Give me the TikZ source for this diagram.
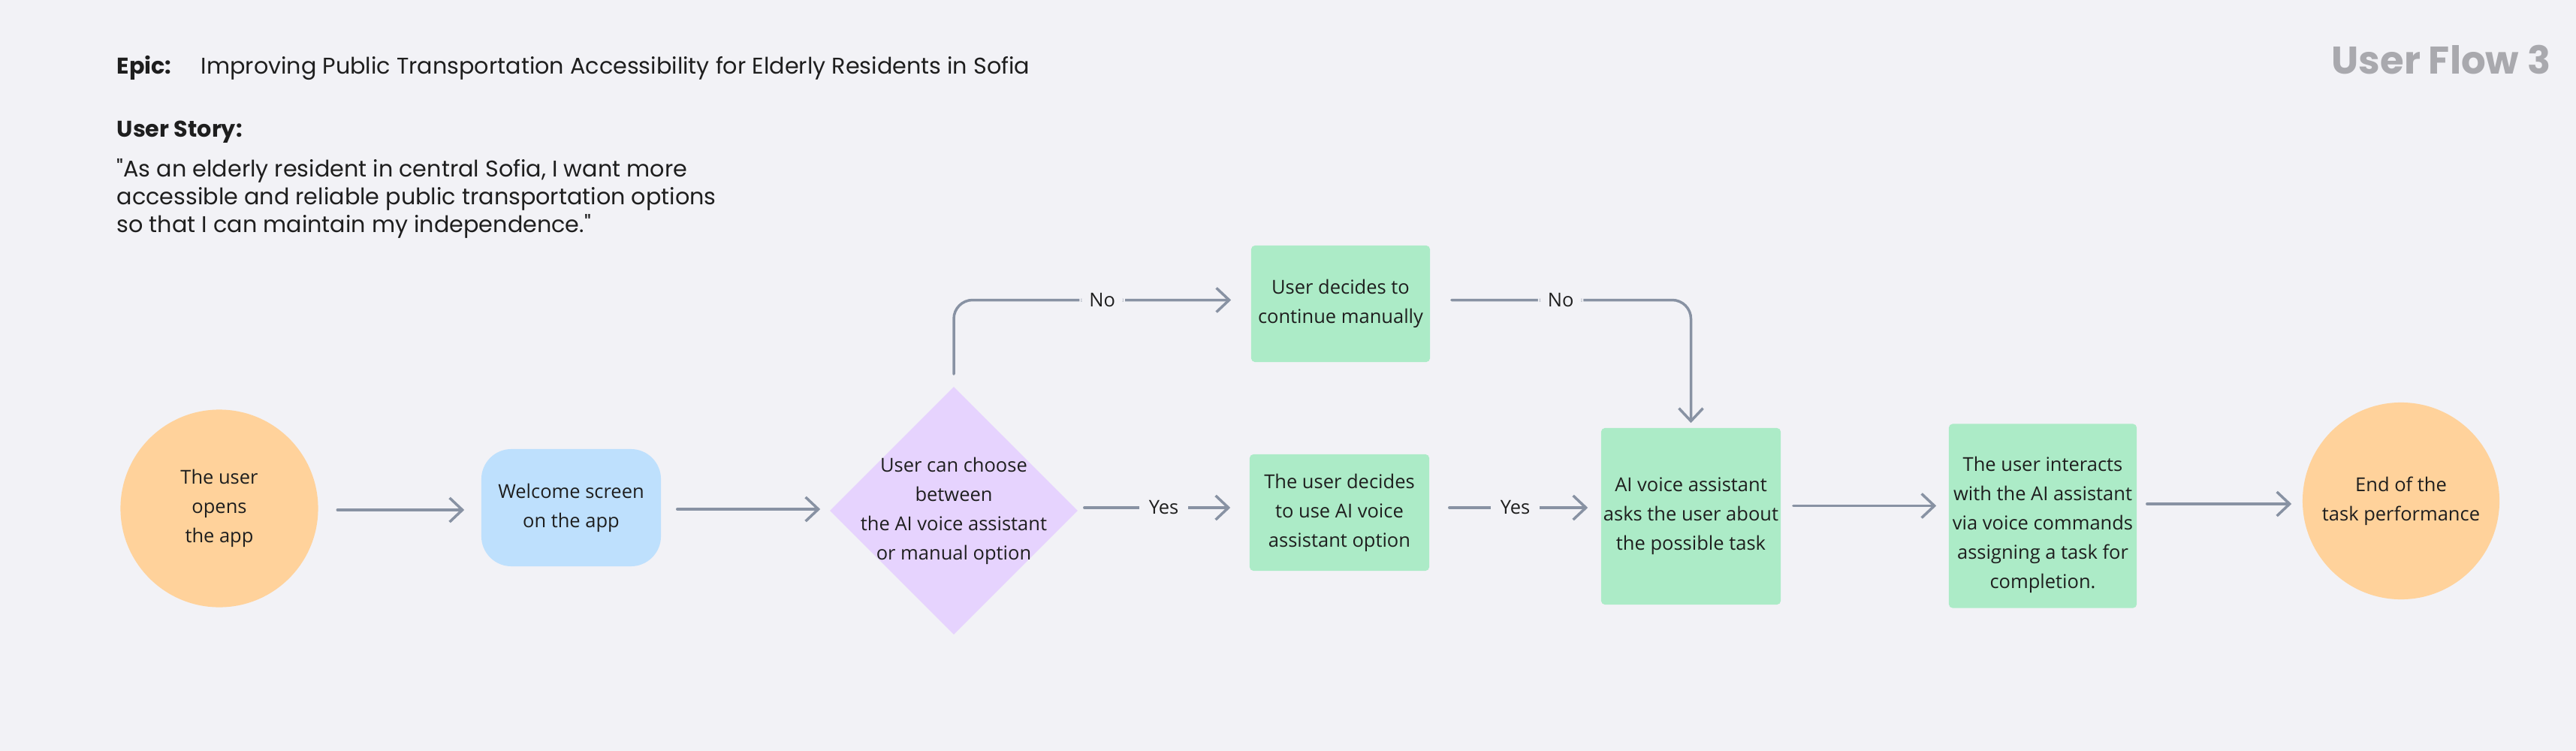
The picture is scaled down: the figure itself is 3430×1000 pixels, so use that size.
\documentclass[tikz,border=0pt]{standalone}
\usepackage{fontspec}
\setmainfont{Open Sans}
\newfontfamily\headfont{Poppins}
\usetikzlibrary{arrows.meta,shapes.geometric}
\definecolor{bg}{HTML}{F2F2F6}
\definecolor{org}{HTML}{FFD29B}
\definecolor{blu}{HTML}{BEE0FD}
\definecolor{lav}{HTML}{E6D3FE}
\definecolor{grn}{HTML}{ACEBC7}
\definecolor{lc}{HTML}{8892A3}
\definecolor{ink}{HTML}{1E1E1E}
\definecolor{ttl}{HTML}{A9A9AE}
\tikzset{
  txt/.style={font=\fontsize{7.25}{11.1}\selectfont, text=ink, align=center, inner sep=0pt},
  hd/.style={font=\headfont\fontsize{8.6}{10.5}\selectfont, text=ink, inner sep=0pt},
  hdb/.style={font=\headfont\bfseries\fontsize{8.6}{10.5}\selectfont, text=ink, inner sep=0pt},
  circ/.style={txt, circle, fill=org},
  gbox/.style={txt, rectangle, fill=grn, rounded corners=0.05cm},
  flow/.style={draw=lc, line width=0.035cm, line cap=round, -{Straight Barb[length=0.17cm,width=0.32cm]}},
  lbl/.style={txt, fill=bg, inner xsep=0.13cm, inner ysep=0.05cm}
}
\begin{document}
\begin{tikzpicture}[x=0.01cm,y=-0.01cm]
\path[fill=bg] (0,0) rectangle (3430,1000);
\useasboundingbox (0,0) rectangle (3430,1000);

% header
\node[hdb, anchor=base west] (epic) at (155,98) {Epic:};
\node[hd, anchor=base west] (epictext) at (267,98) {Improving Public Transportation Accessibility for Elderly Residents in Sofia};
\node[hdb, anchor=base west] (story) at (155,182) {User Story:};
\node[hd, anchor=base west, align=left] (quote) at (155,309) {"As an elderly resident in central Sofia, I want more\\accessible and reliable public transportation options\\so that I can maintain my independence."};
\node[anchor=base east, inner sep=0pt, font=\headfont\bfseries\fontsize{14.6}{17}\selectfont, text=ttl] (title) at (3397,98) {User Flow 3};

% nodes
\node[circ, minimum size=2.63cm] (start) at (292,677) {The user\\opens\\the app};
\node[txt, rectangle, fill=blu, rounded corners=0.4cm, minimum width=2.39cm, minimum height=1.56cm] (welcome) at (760.5,676) {Welcome screen\\on the app};
\node[diamond, fill=lav, minimum width=3.3cm, minimum height=3.3cm, inner sep=0pt,
      label={[txt]center:{User can choose\\between\\the AI voice assistant\\or manual option}}] (choice) at (1270,680) {};
\node[gbox, minimum width=2.38cm, minimum height=1.55cm] (manual) at (1785,404.5) {User decides to\\continue manually};
\node[gbox, minimum width=2.39cm, minimum height=1.55cm] (useai) at (1783.5,682.5) {The user decides\\to use AI voice\\assistant option};
\node[gbox, minimum width=2.39cm, minimum height=2.35cm] (asks) at (2251.5,687.5) {AI voice assistant\\asks the user about\\the possible task};
\node[gbox, minimum width=2.50cm, minimum height=2.45cm,
      label={[txt,yshift=-0.12cm]center:{The user interacts\\with the AI assistant\\via voice commands\\assigning a task for\\completion.}}] (interact) at (2720,687) {};
\node[circ, minimum size=2.62cm] (end) at (3197,667) {End of the\\task performance};

% connectors
\draw[flow, shorten <=0.25cm, shorten >=0.22cm] ([yshift=-0.02cm]start.east) -- ([yshift=-0.02cm]start.east -| welcome.west);
\draw[flow, shorten <=0.21cm, shorten >=0.12cm] ([yshift=-0.02cm]welcome.east) -- ([yshift=-0.02cm]welcome.east -| choice.west);
\draw[flow, shorten <=0.08cm, shorten >=0.25cm] ([yshift=0.04cm]choice.east) -- node[lbl]{Yes} ([yshift=0.04cm]choice.east -| useai.west);
\draw[flow, shorten <=0.26cm, shorten >=0.17cm] ([yshift=0.065cm]useai.east) -- node[lbl]{Yes} ([yshift=0.065cm]useai.east -| asks.west);
\draw[flow, shorten <=0.16cm, shorten >=0.16cm] ([yshift=0.14cm]asks.east) -- ([yshift=0.14cm]asks.east -| interact.west);
\draw[flow, shorten <=0.13cm, shorten >=0.14cm] ([yshift=0.16cm]interact.east) -- ([yshift=0.16cm]interact.east -| end.west);
\draw[flow, rounded corners=0.25cm, shorten <=0.16cm, shorten >=0.26cm] (choice.north) |- node[lbl, pos=0.75]{No} ([yshift=0.05cm]manual.west);
\draw[flow, rounded corners=0.25cm, shorten <=0.28cm, shorten >=0.06cm] ([yshift=0.05cm]manual.east) -| node[lbl, pos=0.25]{No} (asks.north);
\end{tikzpicture}
\end{document}
